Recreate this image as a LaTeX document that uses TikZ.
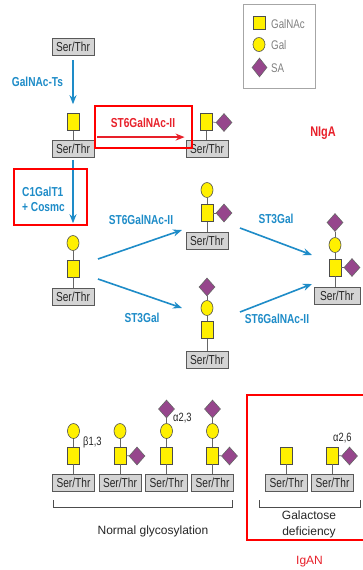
\documentclass[tikz,border=0pt]{standalone}
\usepackage{fontspec}
\setmainfont{Liberation Sans}
\newfontfamily\condf{Liberation Sans}[FakeStretch=0.78]
\usetikzlibrary{shapes.geometric,arrows.meta,calc}
\definecolor{glyyellow}{RGB}{255,240,0}
\definecolor{glypurple}{RGB}{150,70,140}
\definecolor{enzblue}{RGB}{30,140,200}
\definecolor{boxred}{RGB}{255,0,0}
\definecolor{txtred}{RGB}{232,32,42}
\tikzset{
  sertr/.style={rectangle, draw=black!65, line width=0.8pt, fill=black!17, minimum width=42pt, minimum height=17pt, inner sep=0pt, font=\condf\fontsize{13}{13}\selectfont, text=black!85},
  gnac/.style={rectangle, draw=black!70, line width=0.6pt, fill=glyyellow, minimum width=12pt, minimum height=17pt, inner sep=0pt},
  galc/.style={ellipse, draw=black!70, line width=0.6pt, fill=glyyellow, minimum width=12pt, minimum height=15pt, inner sep=0pt},
  sia/.style={diamond, draw=black!60, line width=0.6pt, fill=glypurple, minimum width=16pt, minimum height=18pt, inner sep=0pt},
  link/.style={draw=black!60, line width=0.6pt},
  enz/.style={draw=enzblue, line width=1.6pt, -{Stealth[length=9pt,width=7pt]}},
  redarr/.style={draw=txtred, line width=1.4pt, -{Stealth[length=9pt,width=7pt]}},
  enzlabel/.style={text=enzblue, font=\condf\bfseries\fontsize{13}{15}\selectfont, inner sep=0pt},
  redlabel/.style={text=txtred, font=\condf\bfseries\fontsize{13}{15}\selectfont, inner sep=0pt},
  redframe/.style={draw=boxred, line width=2.5pt},
  linkage/.style={text=black!85, font=\condf\fontsize{12}{12}\selectfont, inner sep=0pt, anchor=west},
  legtext/.style={text=black!50, font=\condf\fontsize{12.5}{13}\selectfont, inner sep=0pt, anchor=west},
  plain/.style={text=black!85, font=\fontsize{12}{16}\selectfont, inner sep=0pt, align=center},
  bracket/.style={draw=black!70, line width=0.7pt}
}
\begin{document}
\begin{tikzpicture}[x=1pt,y=-1pt]
\clip (0,0) rectangle (363,570);
\fill[white] (0,0) rectangle (363,570);

% legend
\node[draw=black!35, line width=0.8pt, minimum width=72pt, minimum height=84pt, inner sep=0pt] (legend) at (279,46) {};
\node[gnac, minimum height=13pt] (lgn) at (259,23) {};
\node[galc, minimum height=14pt] (lgal) at (259,44.5) {};
\node[sia, minimum width=15pt, minimum height=19pt] (lsa) at (259.5,67.5) {};
\node[legtext] (tgn) at (271,24) {GalNAc};
\node[legtext] (tgal) at (271,45) {Gal};
\node[legtext] (tsa) at (271,68) {SA};

% A
\node[sertr] (serA) at (73,46.5) {Ser/Thr};
% B
\node[sertr] (serB) at (73,149) {Ser/Thr};
\node[gnac] (gnB) at (73,122) {};
\draw[link] (gnB) -- (serB);
\draw[enz, shorten <=5pt, shorten >=9pt] (serA) -- (gnB);
\node[enzlabel] (lGT) at (37.5,82) {GalNAc-Ts};

% C
\node[sertr] (serC) at (207,149) {Ser/Thr};
\node[gnac] (gnC) at (206.5,122) {};
\node[sia] (saC) at (224,122.5) {};
\draw[link] (gnC.south) -- (gnC.south |- serC.north);
\draw[link] (gnC.east) -- (saC.west);
\draw[redarr] ([xshift=3pt,yshift=3pt]serB.north east) -- ([xshift=-1pt,yshift=3pt]serC.north west);
\node[redlabel] (lST6a) at (143,123) {ST6GalNAc-II};
\draw[redframe] (95,106) rectangle (192,148);
\node[text=txtred, font=\condf\bfseries\fontsize{14}{14}\selectfont, inner sep=0pt] (nIgA) at (323,133) {NIgA};

% D
\node[galc] (galD) at (73,243) {};
\node[gnac] (gnD) at (73,268.5) {};
\node[sertr] (serD) at (73,297) {Ser/Thr};
\draw[link] (galD) -- (gnD);
\draw[link] (gnD) -- (serD);
\draw[enz, shorten <=2pt, shorten >=12pt] (serB) -- (galD);
\draw[redframe] (14,169) rectangle (87,225);
\node[enzlabel, anchor=west] (lC1) at (22,192) {C1GalT1};
\node[enzlabel, anchor=west] (lCos) at (22,207) {+ Cosmc};

% E
\node[galc] (galE) at (207,190) {};
\node[gnac] (gnE) at (207,213) {};
\node[sia] (saE) at (224,213) {};
\node[sertr] (serE) at (207,241) {Ser/Thr};
\draw[link] (galE) -- (gnE);
\draw[link] (gnE) -- (serE);
\draw[link] (gnE) -- (saE);

% G
\node[sia] (saG) at (207,287) {};
\node[galc] (galG) at (207,308) {};
\node[gnac] (gnG) at (207,330) {};
\node[sertr] (serG) at (207,360) {Ser/Thr};
\draw[link] (saG) -- (galG);
\draw[link] (galG) -- (gnG);
\draw[link] (gnG) -- (serG);

% F
\node[sia] (saF) at (335,222.5) {};
\node[galc] (galF) at (335,245) {};
\node[gnac] (gnF) at (335,267.5) {};
\node[sia] (saF2) at (352,267.5) {};
\node[sertr, minimum width=46pt] (serF) at (337,296) {Ser/Thr};
\draw[link] (saF) -- (galF);
\draw[link] (galF) -- (gnF);
\draw[link] (gnF.south) -- (gnF.south |- serF.north);
\draw[link] (gnF) -- (saF2);

% middle arrows
\coordinate (de1) at (98,259);
\coordinate (de2) at (182,230);
\coordinate (ef1) at (240,228);
\coordinate (ef2) at (312,255);
\coordinate (dg1) at (98,279);
\coordinate (dg2) at (182,308);
\coordinate (gf1) at (240,312);
\coordinate (gf2) at (312,284);
\draw[enz] (de1) -- (de2);
\draw[enz] (ef1) -- (ef2);
\draw[enz] (dg1) -- (dg2);
\draw[enz] (gf1) -- (gf2);
\node[enzlabel] (lde) at (141,220) {ST6GalNAc-II};
\node[enzlabel] (lef) at (276,219) {ST3Gal};
\node[enzlabel] (ldg) at (142,318) {ST3Gal};
\node[enzlabel] (lgf) at (277,319) {ST6GalNAc-II};

% bottom row
\node[sertr] (s1) at (73.5,483) {Ser/Thr};
\node[sertr] (s2) at (120,483) {Ser/Thr};
\node[sertr] (s3) at (166.5,483) {Ser/Thr};
\node[sertr] (s4) at (212.5,483) {Ser/Thr};
\node[sertr] (s5) at (286.5,483) {Ser/Thr};
\node[sertr] (s6) at (332.5,483) {Ser/Thr};

\node[gnac] (g1) at (73.5,455.5) {};
\node[galc] (c1) at (73.5,431) {};
\draw[link] (c1) -- (g1); \draw[link] (g1) -- (s1);
\node[linkage] (b13) at (83,442) {β1,3};

\node[gnac] (g2) at (120,455.5) {};
\node[galc] (c2) at (120,431) {};
\node[sia] (d2) at (137,456) {};
\draw[link] (c2) -- (g2); \draw[link] (g2) -- (s2); \draw[link] (g2) -- (d2);

\node[gnac] (g3) at (166.5,455.5) {};
\node[galc] (c3) at (166.5,431) {};
\node[sia] (t3) at (166.5,409) {};
\draw[link] (t3) -- (c3); \draw[link] (c3) -- (g3); \draw[link] (g3) -- (s3);
\node[linkage] (a23) at (173,418) {α2,3};

\node[gnac] (g4) at (212.5,455.5) {};
\node[galc] (c4) at (212.5,431) {};
\node[sia] (t4) at (212.5,409) {};
\node[sia] (d4) at (229.5,456) {};
\draw[link] (t4) -- (c4); \draw[link] (c4) -- (g4); \draw[link] (g4) -- (s4); \draw[link] (g4) -- (d4);

\node[gnac] (g5) at (286.5,455.5) {};
\draw[link] (g5) -- (s5);

\node[gnac] (g6) at (332.5,455.5) {};
\node[sia] (d6) at (349.5,456) {};
\draw[link] (g6) -- (s6); \draw[link] (g6) -- (d6);
\node[linkage] (a26) at (333,438) {α2,6};

% brackets
\draw[bracket] (53,500) -- (53,507) -- (232,507) -- (232,500);
\draw[bracket] (259,500) -- (259,507) -- (360,507) -- (360,500);
\node[plain] (tnorm) at (153,531) {Normal glycosylation};
\node[plain] (tgal2) at (309,524) {Galactose\\deficiency};

\draw[redframe] (247,395) rectangle (370,540);
\node[text=txtred, font=\fontsize{12}{12}\selectfont, inner sep=0pt] (tIgAN) at (309.5,562) {IgAN};
\end{tikzpicture}
\end{document}
